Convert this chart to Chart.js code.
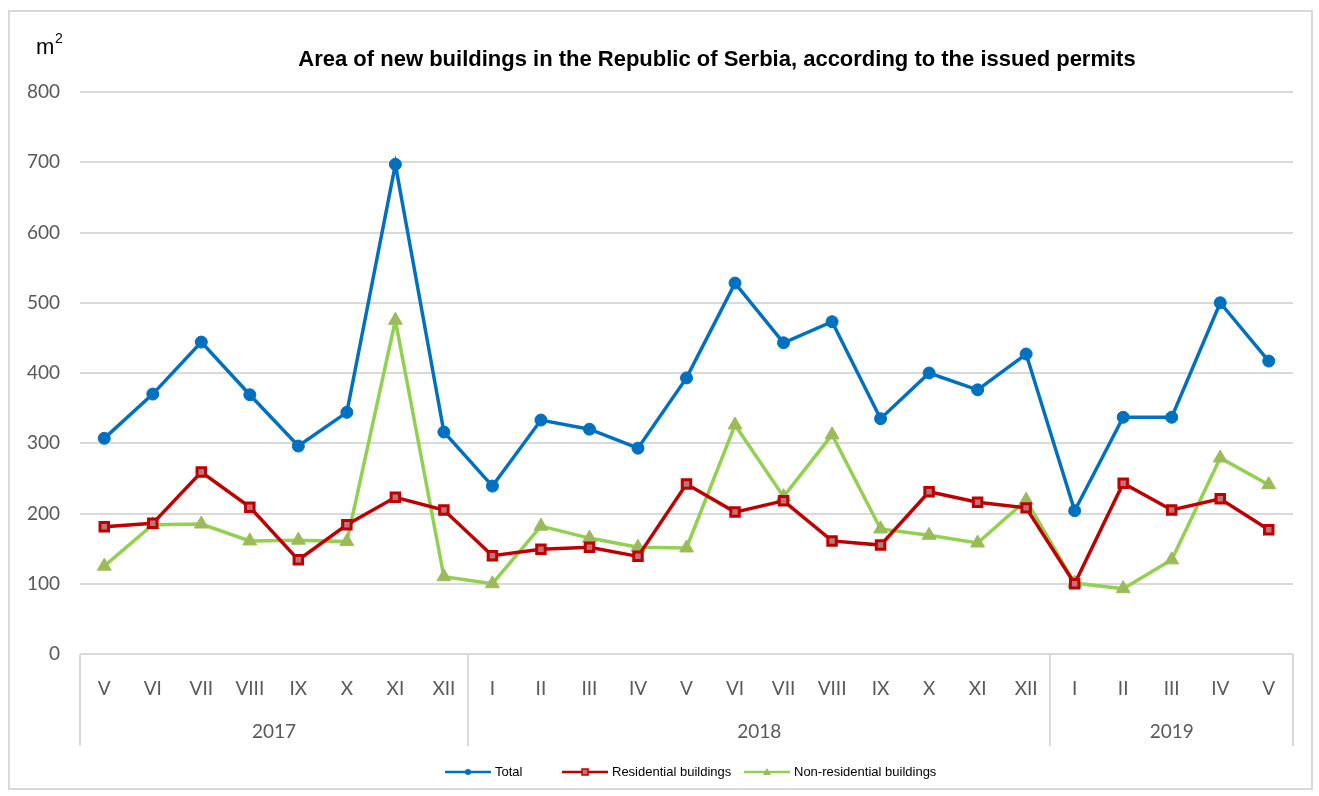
<!DOCTYPE html>
<html>
<head>
<meta charset="utf-8">
<title>Area of new buildings</title>
<script src="https://cdn.jsdelivr.net/npm/chart.js@4"></script>
<style>
  html, body { margin: 0; padding: 0; background: #fff; }
  canvas { display: block; }
</style>
</head>
<body>
<canvas id="areaChart" width="1319" height="796"></canvas>
<script>
// months on the x axis, grouped by year
const months = ['V', 'VI', 'VII', 'VIII', 'IX', 'X', 'XI', 'XII',
    'I', 'II', 'III', 'IV', 'V', 'VI', 'VII', 'VIII', 'IX', 'X', 'XI', 'XII',
    'I', 'II', 'III', 'IV', 'V'];
const years = ['2017', '2018', '2019'];
const monthsPerYear = [8, 12, 5];

// series values (thousand m2)
const total = [307, 370, 444, 369, 296, 344, 697, 316,
    239, 333, 320, 293, 393, 528, 443, 473, 335, 400, 376, 427,
    204, 337, 337, 500, 417];
const residential = [181, 186, 259, 209, 134, 184, 223, 205,
    140, 149, 152, 139, 242, 202, 218, 161, 155, 231, 216, 208,
    100, 243, 205, 221, 177];
const nonResidential = [125, 184, 185, 161, 162, 160, 475, 110,
    100, 182, 165, 152, 151, 326, 224, 312, 178, 169, 158, 219,
    101, 93, 134, 279, 241];

const yTicks = [0, 100, 200, 300, 400, 500, 600, 700, 800];

const GRID = '#d9d9d9';
const TICK = '#595959';

// frame, title, unit, year groups and legend
const decorations = {
    id: 'decorations',
    beforeDraw(chart) {
        const ctx = chart.ctx;
        ctx.save();
        ctx.fillStyle = '#fff';
        ctx.fillRect(0, 0, chart.width, chart.height);
        ctx.strokeStyle = GRID;
        ctx.lineWidth = 2;
        ctx.strokeRect(9, 11, 1303, 778);
        ctx.restore();
    },
    afterDraw(chart) {
        const ctx = chart.ctx;
        const x = chart.scales.x;
        const area = chart.chartArea;
        const step = x.getPixelForValue(1) - x.getPixelForValue(0);
        ctx.save();

        // title
        ctx.fillStyle = '#000';
        ctx.font = 'bold 22px "Liberation Sans", Arial, sans-serif';
        ctx.textAlign = 'center';
        ctx.textBaseline = 'middle';
        ctx.fillText('Area of new buildings in the Republic of Serbia, according to the issued permits', 717, 60);

        // unit
        ctx.textAlign = 'left';
        ctx.textBaseline = 'alphabetic';
        ctx.font = '22px "Liberation Sans", Arial, sans-serif';
        ctx.fillText('m', 36, 54);
        ctx.font = '14px "Liberation Sans", Arial, sans-serif';
        ctx.fillText('2', 55, 43);

        // year groups under the month labels
        const bottom = area.bottom + 92;
        ctx.strokeStyle = GRID;
        ctx.lineWidth = 2;
        ctx.fillStyle = TICK;
        ctx.font = '19px Lato, sans-serif';
        ctx.textAlign = 'center';
        ctx.textBaseline = 'middle';
        let start = 0;
        const edges = [area.left];
        years.forEach((yr, i) => {
            const end = start + monthsPerYear[i] - 1;
            const xl = x.getPixelForValue(start) - step / 2;
            const xr = x.getPixelForValue(end) + step / 2;
            edges.push(xr);
            ctx.fillText(yr, (xl + xr) / 2, area.bottom + 78);
            start = end + 1;
        });
        edges.forEach(e => {
            ctx.beginPath();
            ctx.moveTo(Math.round(e), area.bottom);
            ctx.lineTo(Math.round(e), bottom);
            ctx.stroke();
        });

        // legend: line with marker in the middle
        const legendX = [445, 562, 744];
        const ly = 772;
        ctx.font = '13px "Liberation Sans", Arial, sans-serif';
        ctx.textAlign = 'left';
        chart.data.datasets.forEach((ds, i) => {
            const lx = legendX[i];
            ctx.strokeStyle = ds.borderColor;
            ctx.lineWidth = 2.5;
            ctx.beginPath();
            ctx.moveTo(lx, ly);
            ctx.lineTo(lx + 46, ly);
            ctx.stroke();
            const cx = lx + 23;
            ctx.fillStyle = ds.pointBackgroundColor;
            ctx.strokeStyle = ds.pointBorderColor;
            ctx.lineWidth = 1.5;
            if (ds.pointStyle === 'circle') {
                ctx.beginPath();
                ctx.arc(cx, ly, 3, 0, Math.PI * 2);
                ctx.fill();
            } else if (ds.pointStyle === 'rect') {
                ctx.fillRect(cx - 3, ly - 3, 6, 6);
                ctx.strokeRect(cx - 3, ly - 3, 6, 6);
            } else {
                ctx.beginPath();
                ctx.moveTo(cx, ly - 4);
                ctx.lineTo(cx + 4, ly + 3);
                ctx.lineTo(cx - 4, ly + 3);
                ctx.closePath();
                ctx.fill();
            }
            ctx.fillStyle = '#000';
            ctx.fillText(ds.label, lx + 50, ly);
        });
        ctx.restore();
    }
};

new Chart(document.getElementById('areaChart'), {
    type: 'line',
    data: {
        labels: months,
        datasets: [
            {
                label: 'Total',
                data: total,
                borderColor: '#0070c0',
                borderWidth: 3.5,
                pointStyle: 'circle',
                pointRadius: 6,
                pointBackgroundColor: '#0070c0',
                pointBorderColor: '#0070c0',
                pointBorderWidth: 1,
                tension: 0
            },
            {
                label: 'Residential buildings',
                data: residential,
                borderColor: '#c00000',
                borderWidth: 3.5,
                pointStyle: 'rect',
                pointRadius: 6,
                pointBackgroundColor: '#b9777a',
                pointBorderColor: '#c00000',
                pointBorderWidth: 3,
                tension: 0
            },
            {
                label: 'Non-residential buildings',
                data: nonResidential,
                borderColor: '#92d050',
                borderWidth: 3.5,
                pointStyle: 'triangle',
                pointRadius: 8,
                pointBackgroundColor: '#9bbb59',
                pointBorderColor: '#9bbb59',
                pointBorderWidth: 1,
                tension: 0
            }
        ]
    },
    options: {
        responsive: false,
        animation: false,
        layout: {
            padding: { left: 0, right: 26, top: 92, bottom: 50 }
        },
        plugins: {
            legend: { display: false },
            title: { display: false },
            tooltip: { enabled: false }
        },
        scales: {
            x: {
                offset: true,
                grid: { display: false },
                border: { display: false },
                ticks: {
                    color: TICK,
                    font: { family: 'Lato', size: 19 },
                    padding: 15,
                    maxRotation: 0,
                    autoSkip: false
                },
                afterFit(scale) { scale.height = 92; }
            },
            y: {
                min: 0,
                max: 800,
                afterBuildTicks(scale) {
                    scale.ticks = yTicks.map(v => ({ value: v }));
                },
                grid: {
                    color: GRID,
                    lineWidth: 2,
                    drawTicks: false
                },
                border: { display: false },
                ticks: {
                    color: TICK,
                    font: { family: 'Lato', size: 19 },
                    padding: 20
                },
                afterFit(scale) { scale.width = 80; }
            }
        }
    },
    plugins: [decorations]
});
</script>
</body>
</html>
